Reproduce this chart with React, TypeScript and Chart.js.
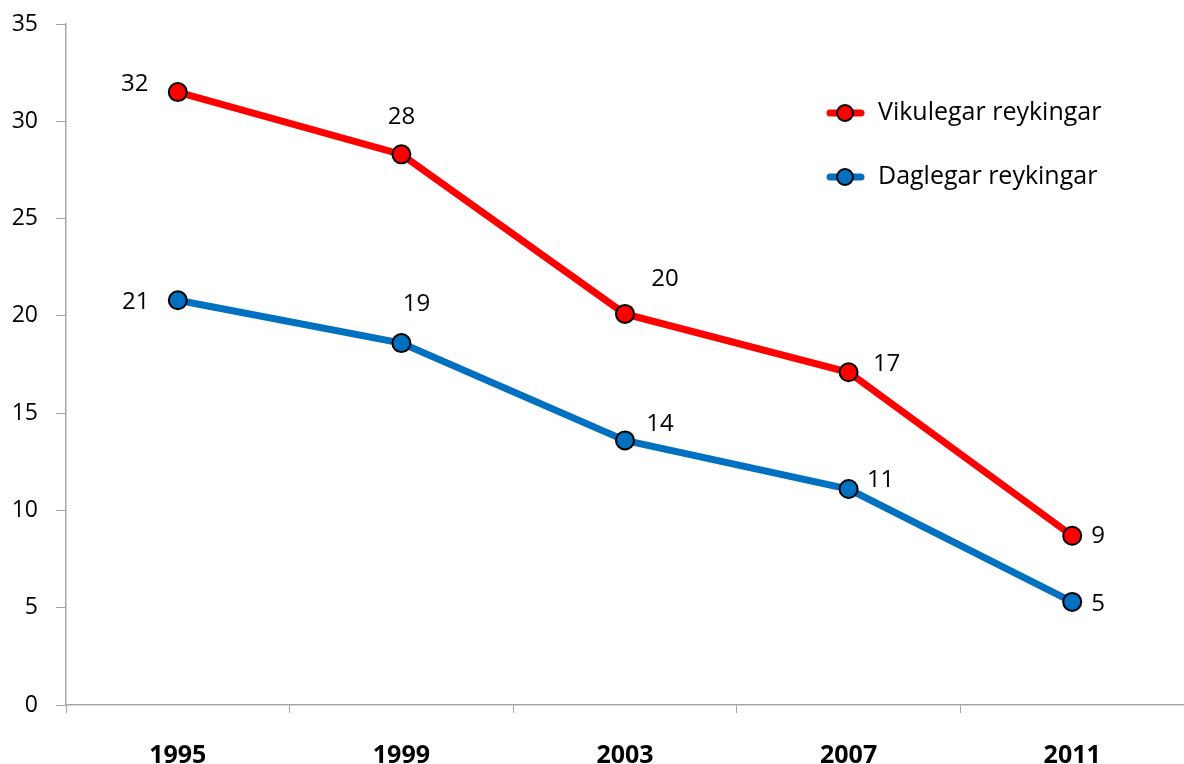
import React, { useEffect, useRef } from "react";
import { Chart, registerables } from "chart.js";

Chart.register(...registerables);

const categories = ["1995", "1999", "2003", "2007", "2011"];
const weeklySmoking = [31.5, 28.3, 20.1, 17.1, 8.7];
const dailySmoking = [20.8, 18.6, 13.6, 11.1, 5.3];
const weeklyLabels = ["32", "28", "20", "17", "9"];
const dailyLabels = ["21", "19", "14", "11", "5"];
const seriesNames = ["Vikulegar reykingar", "Daglegar reykingar"];
const yTicks = [0, 5, 10, 15, 20, 25, 30, 35];

// label offsets (dx, dy) from the point, in px
const weeklyOffsets = [[-43, -8], [0, -37], [40, -35], [38, -8], [26, 0]];
const dailyOffsets = [[-42, 2], [15, -39], [35, -16], [32, -9], [26, 2]];

const RED = "#ff0000";
const BLUE = "#0070c0";
const FONT = "'Open Sans', 'DejaVu Sans', sans-serif";

const labelPlugin = {
  id: "customLabels",
  afterDatasetsDraw(chart: any) {
    const ctx = chart.ctx;
    ctx.save();
    ctx.font = `24px ${FONT}`;
    ctx.fillStyle = "#000";
    ctx.textAlign = "center";
    ctx.textBaseline = "middle";
    const sets = [
      { labels: weeklyLabels, offs: weeklyOffsets },
      { labels: dailyLabels, offs: dailyOffsets },
    ];
    sets.forEach((s, di) => {
      const meta = chart.getDatasetMeta(di);
      meta.data.forEach((pt: any, i: number) => {
        ctx.fillText(s.labels[i], pt.x + s.offs[i][0], pt.y + s.offs[i][1]);
      });
    });
    // legend
    const colors = [RED, BLUE];
    const rows = [113, 177];
    rows.forEach((y, i) => {
      ctx.strokeStyle = colors[i];
      ctx.lineWidth = 7;
      ctx.lineCap = "round";
      ctx.beginPath();
      ctx.moveTo(830, y);
      ctx.lineTo(861, y);
      ctx.stroke();
      ctx.beginPath();
      ctx.arc(845, y, 8, 0, Math.PI * 2);
      ctx.fillStyle = colors[i];
      ctx.fill();
      ctx.lineWidth = 2;
      ctx.strokeStyle = "#000";
      ctx.stroke();
      ctx.fillStyle = "#000";
      ctx.font = `25px ${FONT}`;
      ctx.textAlign = "left";
      ctx.fillText(seriesNames[i], 878, y);
    });
    ctx.restore();
  },
};

export default function App() {
  const ref = useRef<HTMLCanvasElement | null>(null);
  useEffect(() => {
    if (!ref.current) return;
    const chart = new Chart(ref.current, {
      type: "line",
      data: {
        labels: categories,
        datasets: [
          {
            label: seriesNames[0],
            data: weeklySmoking,
            borderColor: RED,
            backgroundColor: RED,
            borderWidth: 7,
            pointRadius: 9,
            pointBorderWidth: 2,
            pointBorderColor: "#000",
            pointBackgroundColor: RED,
            tension: 0,
          },
          {
            label: seriesNames[1],
            data: dailySmoking,
            borderColor: BLUE,
            backgroundColor: BLUE,
            borderWidth: 7,
            pointRadius: 9,
            pointBorderWidth: 2,
            pointBorderColor: "#000",
            pointBackgroundColor: BLUE,
            tension: 0,
          },
        ],
      },
      options: {
        animation: false,
        responsive: true,
        maintainAspectRatio: false,
        layout: { autoPadding: false, padding: { top: 24, right: 0, left: 0, bottom: 0 } },
        plugins: {
          legend: { display: false },
          tooltip: { enabled: false },
        },
        scales: {
          x: {
            type: "category",
            offset: true,
            grid: {
              offset: true,
              drawOnChartArea: false,
              drawTicks: true,
              tickLength: 8,
              color: "#a6a6a6",
            },
            border: { color: "#a6a6a6", width: 1.5 },
            ticks: {
              color: "#000",
              padding: 28,
              maxRotation: 0,
              font: { family: FONT, size: 25, weight: "bold" },
            },
            afterFit: (scale: any) => {
              scale.height = 59;
              scale.paddingLeft = 0;
              scale.paddingRight = 0;
            },
          },
          y: {
            min: 0,
            max: 35,
            afterBuildTicks: (scale: any) => {
              scale.ticks = yTicks.map((v) => ({ value: v }));
            },
            grid: {
              drawOnChartArea: false,
              drawTicks: true,
              tickLength: 10,
              color: "#a6a6a6",
            },
            border: { color: "#a6a6a6", width: 1.5 },
            ticks: {
              color: "#000",
              padding: 18,
              font: { family: FONT, size: 23 },
            },
            afterFit: (scale: any) => {
              scale.width = 66;
              scale.paddingTop = 0;
              scale.paddingBottom = 0;
            },
          },
        },
      },
      plugins: [labelPlugin],
    });
    return () => chart.destroy();
  }, []);
  return (
    <div style={{ position: "fixed", left: 0, top: 0, width: 1184, height: 764, background: "#fff" }}>
      <canvas ref={ref} />
    </div>
  );
}
